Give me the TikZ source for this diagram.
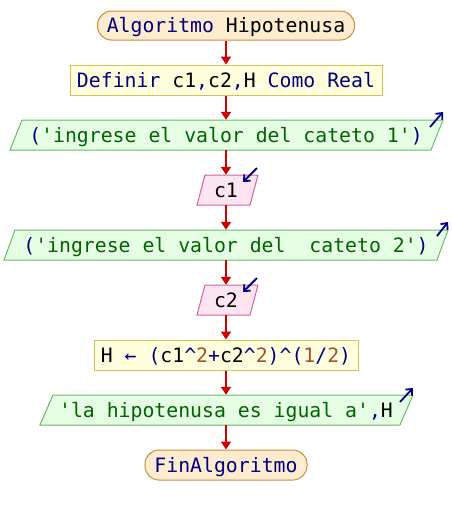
\documentclass[tikz,border=0pt]{standalone}
\usepackage{fontspec}
\usetikzlibrary{arrows.meta}
\newfontfamily\pfont{DejaVu Sans Mono}
\definecolor{termf}{RGB}{254,236,208}
\definecolor{termb}{RGB}{200,140,60}
\definecolor{procf}{RGB}{255,255,221}
\definecolor{procb}{RGB}{205,195,90}
\definecolor{outf}{RGB}{230,255,228}
\definecolor{outb}{RGB}{102,187,102}
\definecolor{inf}{RGB}{252,228,240}
\definecolor{inb}{RGB}{204,102,153}
\definecolor{flowc}{RGB}{204,0,0}
\definecolor{kwc}{RGB}{0,0,128}
\definecolor{strc}{RGB}{0,100,0}
\definecolor{numc}{RGB}{160,82,45}
\newcommand\kwd[1]{\textcolor{kwc}{#1}}
\newcommand\strt[1]{\textcolor{strc}{#1}}
\newcommand\numt[1]{\textcolor{numc}{#1}}
\newcommand\caret{\textcolor{kwc}{\textasciicircum}}
\tikzset{
  txt/.style={font=\pfont\fontsize{19.8pt}{24pt}\selectfont, inner sep=0pt,
    text height=14.4pt, text depth=0pt, minimum height=30pt},
  termbox/.style={txt, draw=termb, fill=termf, line width=1pt, rounded corners=14pt},
  procbox/.style={txt, draw=procb, fill=procf, line width=1pt},
  outshape/.style={draw=outb, fill=outf, line width=1pt},
  inshape/.style={draw=inb, fill=inf, line width=1pt},
  flow/.style={draw=flowc, line width=2pt, -{Triangle[length=8pt,width=10pt]}},
  ioarrow/.style={draw=kwc, line width=1.8pt, -{Straight Barb[length=5pt,width=9pt]}}
}
\begin{document}
\begin{tikzpicture}[x=1pt,y=-1pt]
\useasboundingbox (0,0) rectangle (452,515);
% start
\node[termbox, minimum width=257pt, minimum height=29pt] (start) at (226,25.5)
  {\kwd{Algoritmo} Hipotenusa};
% definir
\node[procbox, minimum width=312pt] (def) at (226,80)
  {\kwd{Definir} c1\kwd{,}c2\kwd{,}H \kwd{Como Real}};
% output 1
\path[outshape] (22,120) -- (443,120) -- (431,150) -- (10,150) -- cycle;
\node[txt] (out1) at (226,135)
  {\kwd{(}\strt{'ingrese el valor del cateto 1'}\kwd{)}};
\draw[ioarrow] (430,127) -- (443,112);
% input c1
\path[inshape] (205,175) -- (258,175) -- (250,205) -- (197,205) -- cycle;
\node[txt] (in1) at (226,190) {c1};
\draw[ioarrow] (257,168) -- (243,182);
% output 2
\path[outshape] (15,230) -- (448,230) -- (437,260) -- (4,260) -- cycle;
\node[txt] (out2) at (226,245)
  {\kwd{(}\strt{'ingrese el valor del\ \ cateto 2'}\kwd{)}};
\draw[ioarrow] (437,236) -- (448,222);
% input c2
\path[inshape] (205,285) -- (258,285) -- (250,315) -- (197,315) -- cycle;
\node[txt] (in2) at (226,300) {c2};
\draw[ioarrow] (257,278) -- (243,292);
% assignment
\node[procbox, minimum width=264pt] (asg) at (226,355)
  {H \kwd{←} \kwd{(}c1\caret\numt{2}\kwd{+}c2\caret\numt{2}\kwd{)}\caret\kwd{(}\numt{1}\kwd{/}\numt{2}\kwd{)}};
% output 3
\path[outshape] (53,395) -- (413,395) -- (400,425) -- (40,425) -- cycle;
\node[txt] (out3) at (226,410)
  {\strt{'la hipotenusa es igual a'}\kwd{,}\textcolor{black}{H}};
\draw[ioarrow] (400,402) -- (413,388);
% end
\node[termbox, minimum width=162pt] (fin) at (226,465) {\kwd{FinAlgoritmo}};
% flow
\draw[flow] (start.south) -- (def.north);
\draw[flow] (def.south) -- (out1.north);
\draw[flow] (out1.south) -- (in1.north);
\draw[flow] (in1.south) -- (out2.north);
\draw[flow] (out2.south) -- (in2.north);
\draw[flow] (in2.south) -- (asg.north);
\draw[flow] (asg.south) -- (out3.north);
\draw[flow] (out3.south) -- (fin.north);
\end{tikzpicture}
\end{document}
